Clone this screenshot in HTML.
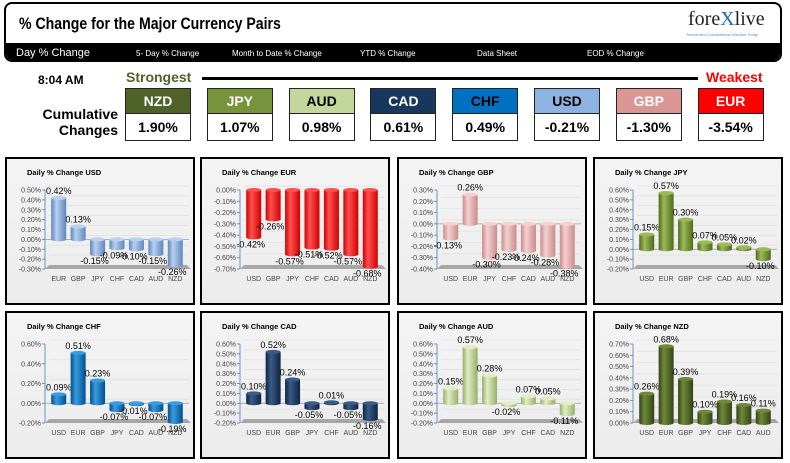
<!DOCTYPE html>
<html><head><meta charset="utf-8">
<style>
body{margin:0;width:790px;height:463px;background:#fff;position:relative;overflow:hidden;font-family:"Liberation Sans",sans-serif}
.abs{position:absolute}
.nar{font-family:"Liberation Sans Narrow","Liberation Sans",sans-serif;font-weight:bold}
.box{position:absolute;width:66px;border:1px solid #222;box-sizing:border-box}
.box .h{height:24px;line-height:24px;text-align:center;font-size:14px;border-bottom:1px solid #222}
.box .v{height:26px;line-height:26px;text-align:center;font-size:14px;background:#fff;color:#000}
.panel{position:absolute;border:2px solid #000;box-sizing:border-box;background:linear-gradient(#f4f4f4,#ececec)}
</style></head><body>
<div class="abs" style="left:4px;top:2px;width:778px;height:60px;border:2px solid #000;border-radius:8px;box-sizing:border-box;overflow:hidden">
 <div class="abs nar" style="left:13px;top:10px;font-size:17px;color:#000;transform:scaleX(0.83);transform-origin:left top;white-space:nowrap">% Change for the Major Currency Pairs</div>
 <div class="abs" style="left:682px;top:4px;font-family:'Liberation Serif',serif;font-size:20px;color:#222">fore<span style="color:#1a6fc0">X</span>live</div>
 <div class="abs" style="left:680px;top:28px;font-size:4px;color:#4a8cd8">Tomorrow's Conventional Wisdom Today</div>
 <div class="abs" style="left:0;top:39px;width:778px;height:21px;background:#000;color:#fff;font-size:8px">
  <span class="abs nar" style="left:10px;top:4px;font-size:11px;font-weight:normal">Day % Change</span>
  <span class="abs" style="left:130px;top:6px">5- Day % Change</span>
  <span class="abs" style="left:226px;top:6px">Month to Date % Change</span>
  <span class="abs" style="left:354px;top:6px">YTD % Change</span>
  <span class="abs" style="left:471px;top:6px">Data Sheet</span>
  <span class="abs" style="left:581px;top:6px">EOD % Change</span>
 </div>
</div>
<div class="abs nar" style="left:38px;top:73px;font-size:12px">8:04 AM</div>
<div class="abs nar" style="left:126px;top:69px;font-size:14px;color:#4f6228">Strongest</div>
<div class="abs" style="left:202px;top:77px;width:496px;height:3px;background:#000"></div>
<div class="abs nar" style="left:706px;top:69px;font-size:14px;color:#ff0000">Weakest</div>
<div class="abs nar" style="left:36px;top:106px;font-size:14px;text-align:right;width:82px;line-height:16px">Cumulative<br>Changes</div>
<div id="boxes"></div>
<div id="panels"></div>
<script>
const boxCodes=['NZD','JPY','AUD','CAD','CHF','USD','GBP','EUR'];
const boxValues=['1.90%','1.07%','0.98%','0.61%','0.49%','-0.21%','-1.30%','-3.54%'];
const boxBg=['#4f6228','#77933c','#c3d69b','#17375e','#0070c0','#8db3e2','#da9694','#ff0000'];
const boxFg=['#fff','#fff','#000','#fff','#000','#000','#fff','#fff'];
const bx=document.getElementById('boxes');
boxCodes.forEach((c,i)=>{
 const d=document.createElement('div');d.className='box nar';
 
 
 d.style.left=(125+i*81.8)+'px';d.style.top='88px';
 d.innerHTML='<div class="h" style="background:'+boxBg[i]+';color:'+boxFg[i]+'">'+c+'</div><div class="v">'+boxValues[i]+'</div>';
 bx.appendChild(d);
});

const panelTitles=['USD','EUR','GBP','JPY','CHF','CAD','AUD','NZD'];
const panelCats=[
 ['EUR','GBP','JPY','CHF','CAD','AUD','NZD'],
 ['USD','GBP','JPY','CHF','CAD','AUD','NZD'],
 ['USD','EUR','JPY','CHF','CAD','AUD','NZD'],
 ['USD','EUR','GBP','CHF','CAD','AUD','NZD'],
 ['USD','EUR','GBP','JPY','CAD','AUD','NZD'],
 ['USD','EUR','GBP','JPY','CHF','AUD','NZD'],
 ['USD','EUR','GBP','JPY','CHF','CAD','NZD'],
 ['USD','EUR','GBP','JPY','CHF','CAD','AUD']];
const usdVals=[0.42,0.13,-0.15,-0.09,-0.10,-0.15,-0.26];
const eurVals=[-0.42,-0.26,-0.57,-0.51,-0.52,-0.57,-0.68];
const gbpVals=[-0.13,0.26,-0.30,-0.23,-0.24,-0.28,-0.38];
const jpyVals=[0.15,0.57,0.30,0.07,0.05,0.02,-0.10];
const chfVals=[0.09,0.51,0.23,-0.07,-0.01,-0.07,-0.19];
const cadVals=[0.10,0.52,0.24,-0.05,0.01,-0.05,-0.16];
const audVals=[0.15,0.57,0.28,-0.02,0.07,0.05,-0.11];
const nzdVals=[0.26,0.68,0.39,0.10,0.19,0.16,0.11];
const panelVals=[usdVals,eurVals,gbpVals,jpyVals,chfVals,cadVals,audVals,nzdVals];
const axisMin=[-0.3,-0.7,-0.4,-0.2,-0.2,-0.2,-0.2,0];
const axisMax=[0.5,0,0.3,0.6,0.6,0.6,0.6,0.7];
const axisStep=[0.1,0.1,0.1,0.1,0.2,0.1,0.1,0.1];
const barColors=[['#5d86bd','#b9d0ee'],['#d00000','#ff5050'],['#c98c8c','#f5d0d0'],['#4f6a1e','#9cbb58'],['#00508f','#3a9be0'],['#0e2440','#3a5a88'],['#98ae6a','#e1edc4'],['#354318','#6e8a38']];
const panelPos=[[5,157],[200,157],[397,157],[593,157],[5,311],[200,311],[397,311],[593,311]];
const NS='http://www.w3.org/2000/svg';
const host=document.getElementById('panels');
function el(t,a,p){const e=document.createElementNS(NS,t);for(const k in a)e.setAttribute(k,a[k]);p.appendChild(e);return e;}
panelTitles.forEach((t,pi)=>{
 const W=190, H=148;
 const div=document.createElement('div');div.className='panel';
 
 
 div.style.left=panelPos[pi][0]+'px';div.style.top=panelPos[pi][1]+'px';div.style.width=W+'px';div.style.height=H+'px';
 host.appendChild(div);
 const svg=el('svg',{width:W,height:H,style:'position:absolute;left:-2px;top:-2px'},div);
 const tt=el('text',{x:22,y:18,'font-size':'7.5','font-weight':'bold','font-family':'Liberation Sans, sans-serif'},svg);
 tt.textContent='Daily % Change '+t;
 
 
 const mn=axisMin[pi],mx=axisMax[pi],st=axisStep[pi];
 const top=33,bot=112,ax=40,right=180;
 const y=v=>top+(mx-v)/(mx-mn)*(bot-top);
 el('polygon',{points:(ax+4)+','+(bot-4)+' '+(right+2)+','+(bot-4)+' '+(right+6)+','+bot+' '+ax+','+bot,fill:'#a6a6a6'},svg);
 const n=Math.round((mx-mn)/st);
 for(let i=0;i<=n;i++){
  const v=mn+i*st, yy=y(v);
  if(i>0) el('line',{x1:ax+4,y1:yy-4,x2:right+4,y2:yy-4,stroke:'#e0e0e0','stroke-width':0.7},svg);
  el('line',{x1:ax-3,y1:yy,x2:ax,y2:yy,stroke:'#4a7ebb','stroke-width':0.8},svg);
  const tl=el('text',{x:ax-4,y:yy+2.5,'font-size':'7','text-anchor':'end',fill:'#444','font-family':'Liberation Sans, sans-serif'},svg);
  tl.textContent=v.toFixed(2)+'%';
  
  
 }
 el('line',{x1:ax,y1:top,x2:ax,y2:bot,stroke:'#4a7ebb','stroke-width':0.8},svg);
 if(mn<0&&mx>0) el('line',{x1:ax,y1:y(0),x2:right+4,y2:y(0),stroke:'#999','stroke-width':0.8},svg);
 const gid='g'+pi;
 const g=el('linearGradient',{id:gid,x1:0,x2:1,y1:0,y2:0},el('defs',{},svg));
 el('stop',{offset:'0',  'stop-color':barColors[pi][0]},g);
 el('stop',{offset:'0.35','stop-color':barColors[pi][1]},g);
 el('stop',{offset:'1',  'stop-color':barColors[pi][0]},g);
 const cats=panelCats[pi],vals=panelVals[pi];
 const band=(right-ax-4)/cats.length, bw=15;
 cats.forEach((c,i)=>{
  const cx=ax+4+band*(i+0.5), v=vals[i];
  const y0=y(Math.max(0,Math.min(mx,0))), y1=y(v);
  const ya=Math.min(y0,y1), yb=Math.max(y0,y1);
  const b=el('rect',{x:cx-bw/2,y:ya,width:bw,height:Math.max(0.5,yb-ya),fill:'url(#'+gid+')'},svg);
  
  
  el('ellipse',{cx:cx,cy:yb,rx:bw/2,ry:2,fill:'url(#'+gid+')'},svg);
  el('ellipse',{cx:cx,cy:ya,rx:bw/2,ry:2,fill:barColors[pi][1]},svg);
  const lbl=el('text',{x:v>=0?cx:cx-3,y:v>=0?y1-4:y1+10,'font-size':'9','text-anchor':'middle',fill:'#000','font-family':'Liberation Sans, sans-serif'},svg);
  lbl.textContent=v.toFixed(2)+'%';
  
  
  const cl=el('text',{x:cx,y:bot+12,'font-size':'7','text-anchor':'middle',fill:'#444','font-family':'Liberation Sans, sans-serif'},svg);
  cl.textContent=c;
  
  
 });
});
</script>
</body></html>
